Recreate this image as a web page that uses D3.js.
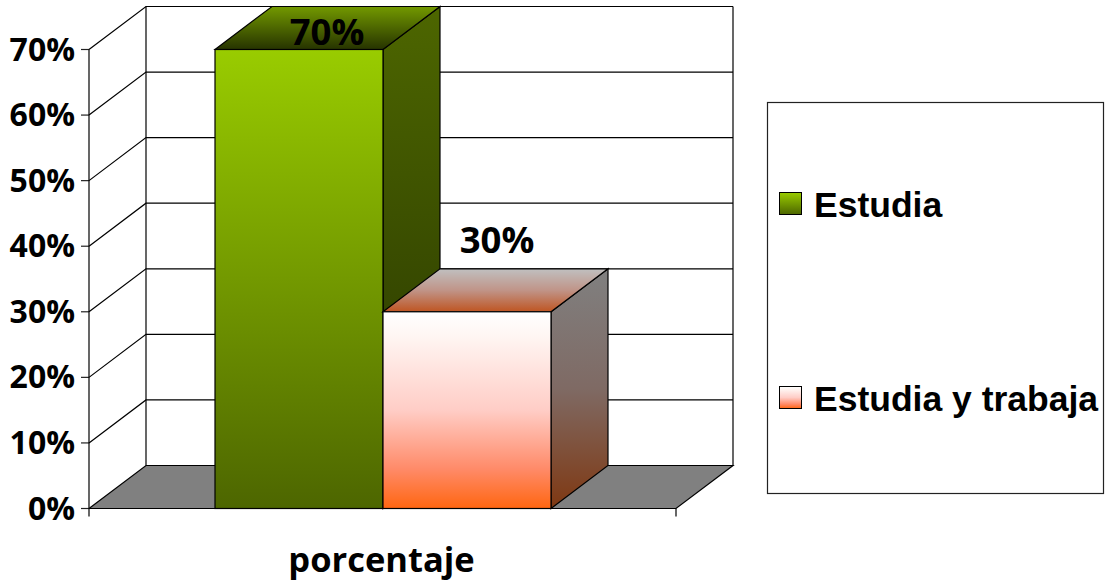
<!DOCTYPE html>
<html><head><meta charset="utf-8">
<script src="https://cdn.jsdelivr.net/npm/d3@7"></script>
<style>html,body{margin:0;padding:0;background:#fff}svg{display:block}</style>
</head><body><svg id="c" width="1112" height="585"></svg>
<script>
const seriesNames = ["Estudia", "Estudia y trabaja"];
const seriesValues = [0.7, 0.3];
const valueLabels = ["70%", "30%"];
const yTicks = [0, 0.1, 0.2, 0.3, 0.4, 0.5, 0.6, 0.7];
const categoryLabel = "porcentaje";
const frontColors = [["#99cc00", "#4d6600"], ["#ffffff", "#fff6f3", "#ffcdc6", "#ff8a68", "#ff6611"]];
const sideColors = [["#4d6600", "#263300"], ["#808080", "#7f6a64", "#7f3812"]];
const topColors = [["#739900", "#263300"], ["#c0c0c0", "#c09488", "#bf5522"]];

const svg = d3.select("#c");
const depthX = 57, depthY = -43;
const y = d3.scaleLinear().domain([0, 0.7]).range([508.5, 49.5]);
const xOuter = d3.scaleLinear().domain([0, 1]).range([89, 676]);
const x = d3.scaleBand().domain(seriesNames).range([215, 551]);
const line = d3.line();
const numFont = "'Open Sans',sans-serif", legFont = "'Liberation Sans',Arial,sans-serif";

const defs = svg.append("defs");
const stopOffsets = { 5: [0, 0.12, 0.5, 0.8, 1], 3: [0, 0.5, 1], 2: [0, 1] };
function grad(id, c) {
  const g = defs.append("linearGradient").attr("id", id).attr("x1", 0).attr("y1", 0).attr("x2", 0).attr("y2", 1);
  c.forEach((col, k) => g.append("stop").attr("offset", stopOffsets[c.length][k]).attr("stop-color", col));
}
seriesNames.forEach((_, i) => {
  grad("f" + i, frontColors[i]); grad("s" + i, sideColors[i]); grad("t" + i, topColors[i]);
});

const x0 = xOuter(0), x1 = xOuter(1), yb = y(0), yt = y(0.7);
// floor
svg.append("path").attr("d", line([[x0, yb], [x0 + depthX, yb + depthY], [x1 + depthX, yb + depthY], [x1, yb]]) + "Z")
  .attr("fill", "#808080").attr("stroke", "#000").attr("stroke-width", 1.2);
// walls and gridlines
yTicks.forEach(t => {
  if (t > 0) svg.append("path").attr("d", line([[x0, y(t)], [x0 + depthX, y(t) + depthY], [x1 + depthX, y(t) + depthY]]))
    .attr("fill", "none").attr("stroke", "#000").attr("stroke-width", 1.2);
  svg.append("line").attr("x1", x0 - 8).attr("x2", x0).attr("y1", y(t)).attr("y2", y(t)).attr("stroke", "#222").attr("stroke-width", 1.2);
  svg.append("text").attr("x", 75).attr("y", y(t) + 11).attr("text-anchor", "end")
    .attr("font-family", numFont).attr("font-weight", 700).attr("font-size", 32).attr("fill", "#000").text(d3.format(".0%")(t));
});
const wall = svg.append("g").attr("fill", "none").attr("stroke", "#000").attr("stroke-width", 1.2);
wall.append("path").attr("d", line([[x0, yb + 8], [x0, yt]]));
wall.append("path").attr("d", line([[x0 + depthX, yb + depthY], [x0 + depthX, yt + depthY]]));
wall.append("path").attr("d", line([[x1 + depthX, yb + depthY], [x1 + depthX, yt + depthY]]));
wall.append("path").attr("d", line([[x1, yb], [x1, yb + 8]]));

// bars
seriesNames.forEach((n, i) => {
  const l = x(n), r = l + x.bandwidth(), t = y(seriesValues[i]);
  const g = svg.append("g").attr("stroke", "#000").attr("stroke-width", 1.2);
  g.append("path").attr("d", line([[r, yb], [r + depthX, yb + depthY], [r + depthX, t + depthY], [r, t]]) + "Z").attr("fill", `url(#s${i})`);
  g.append("path").attr("d", line([[l, t], [l + depthX, t + depthY], [r + depthX, t + depthY], [r, t]]) + "Z").attr("fill", `url(#t${i})`);
  g.append("rect").attr("x", l).attr("y", t).attr("width", r - l).attr("height", yb - t).attr("fill", `url(#f${i})`);
});
// value labels
const labelY = [45, 253], labelX = [327, 497];
valueLabels.forEach((s, i) => svg.append("text").attr("x", labelX[i]).attr("y", labelY[i]).attr("text-anchor", "middle")
  .attr("font-family", numFont).attr("font-weight", 700).attr("font-size", 36.5).attr("fill", "#000").text(s));
// category
svg.append("text").attr("x", 381.5).attr("y", 572).attr("text-anchor", "middle")
  .attr("font-family", numFont).attr("font-weight", 700).attr("font-size", 34.5).attr("fill", "#000").text(categoryLabel);
// legend
svg.append("rect").attr("x", 767.5).attr("y", 102.5).attr("width", 336).attr("height", 391).attr("fill", "#fff").attr("stroke", "#222").attr("stroke-width", 1.2);
const legY = [192, 386];
seriesNames.forEach((n, i) => {
  svg.append("rect").attr("x", 779.5).attr("y", legY[i] + .5).attr("width", 22).attr("height", 22)
    .attr("fill", `url(#f${i})`).attr("stroke", "#000").attr("stroke-width", 1);
  svg.append("text").attr("x", 814).attr("y", legY[i] + 25).attr("font-family", legFont).attr("font-weight", 700)
    .attr("font-size", 35.5).attr("fill", "#000").text(n);
});
</script></body></html>
